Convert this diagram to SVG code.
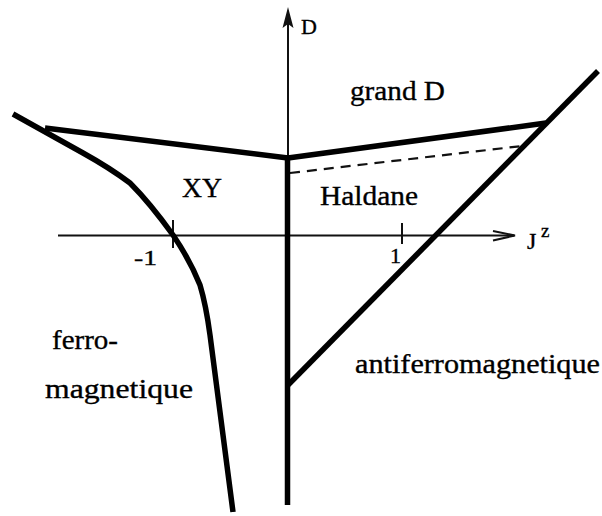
<svg xmlns="http://www.w3.org/2000/svg" width="602" height="516" viewBox="0 0 602 516">
<style>
.thin{fill:none;stroke:#111;stroke-width:2}
.thick{fill:none;stroke:#000;stroke-width:5.5;stroke-linejoin:round;stroke-linecap:butt}
.dash{fill:none;stroke:#111;stroke-width:2.2;stroke-dasharray:10 7}
text{font-family:"Liberation Serif","Times New Roman",serif;fill:#000;stroke:#000;stroke-width:0.35}
.lbl{font-size:28px}
.sm{font-size:22px}
</style>
<rect width="602" height="516" fill="#fff"/>
<g id="axes">
<line class="thin" x1="288" y1="14" x2="288" y2="160"/>
<path d="M288,7 L293.5,28 L288,24 L282.5,28 Z" fill="#111"/>
<line class="thin" x1="58" y1="235.5" x2="514" y2="235.5"/>
<path class="thin" d="M493,231 L515,235.5 L493,240.5"/>
<line class="thin" x1="173" y1="220" x2="173" y2="248"/>
<line class="thin" x1="402" y1="223" x2="402" y2="244"/>
</g>
<g id="connectors">
<path id="top-left" class="thick" d="M45,128 L288,158"/>
<path id="top-right" class="thick" d="M288,158 L546,123"/>
<path id="dashed" class="dash" d="M290,173 L522,146"/>
<path id="center" class="thick" d="M287.5,157 L287.5,505"/>
<path id="antiferro" class="thick" d="M288,385 L598,71"/>
<path id="ferro" class="thick" d="M13,114 L83,153 Q110,168 130,183 Q150,203 173,235 Q190,260 200,285 Q206,305 210,335 L233,512"/>
</g>
<g id="labels">
<text class="sm" x="301" y="34">D</text>
<text x="527" y="249" font-size="24">J</text>
<text x="541" y="237" font-size="19">z</text>
<text class="sm" x="134" y="265" textLength="23" lengthAdjust="spacingAndGlyphs">-1</text>
<text class="sm" x="390" y="263">1</text>
<text class="lbl" x="350" y="100" textLength="95" lengthAdjust="spacingAndGlyphs">grand D</text>
<text class="lbl" x="182" y="197" textLength="40" lengthAdjust="spacingAndGlyphs">XY</text>
<text class="lbl" x="320" y="205" textLength="98" lengthAdjust="spacingAndGlyphs">Haldane</text>
<text class="lbl" x="52" y="349" textLength="66" lengthAdjust="spacingAndGlyphs">ferro-</text>
<text class="lbl" x="45" y="398" textLength="148" lengthAdjust="spacingAndGlyphs">magnetique</text>
<text class="lbl" x="355" y="373" textLength="245" lengthAdjust="spacingAndGlyphs">antiferromagnetique</text>
</g>
</svg>
